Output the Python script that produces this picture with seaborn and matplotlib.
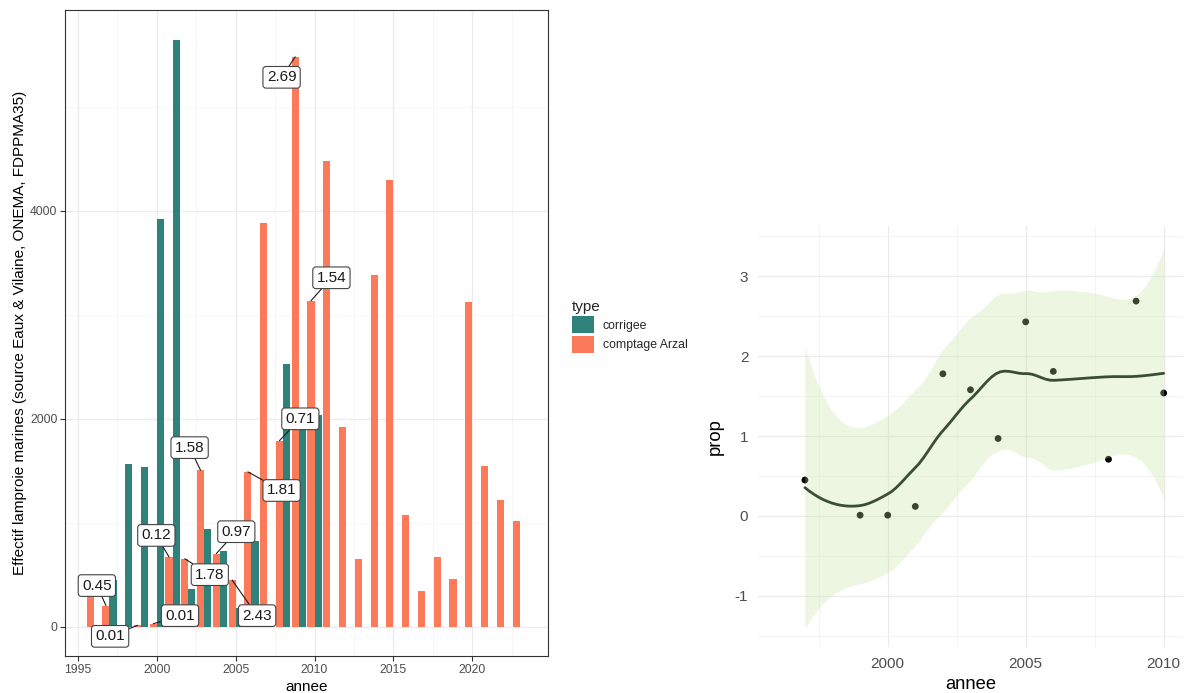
import math
import numpy as np
import pandas as pd
import matplotlib
matplotlib.use("Agg")
import matplotlib.pyplot as plt
from matplotlib.patches import Patch
import seaborn as sns

# ---- data -------------------------------------------------------------
annees = list(range(1996, 2024))
comptage_arzal = [305, 205, np.nan, 15, 30, 672, 655, 1505, 705, 450, 1490, 3885,
                  1790, 5480, 3135, 4480, 1920, 655, 3385, 4295, 1080, 345, 672,
                  457, 3120, 1542, 1222, 1018]
corrigee = [np.nan, 455, 1568, 1536, 3920, 5640, 368, 937, 726, 185, 822, np.nan,
            2528, 2037, 2036] + [np.nan] * 13

annees_prop = [1997, 1999, 2000, 2001, 2002, 2003, 2004, 2005, 2006, 2008, 2009, 2010]
prop = [0.45, 0.01, 0.01, 0.12, 1.78, 1.58, 0.97, 2.43, 1.81, 0.71, 2.69, 1.54]

# label box centres (data coordinates) for the ratio labels
label_pos = [(1996.2, 397), (1997.04, -91), (2001.47, 108), (1999.97, 879),
             (2003.36, 502), (2002.08, 1723), (2005.04, 915), (2006.36, 108),
             (2007.91, 1311), (2009.1, 2000), (2007.91, 5283), (2011.07, 3356)]

types = ["comptage Arzal", "corrigee"]
col_teal = "#2E8279"
col_orange = "#FB7A5A"

df = pd.concat([
    pd.DataFrame({"annee": annees, "effectif": comptage_arzal, "type": "comptage Arzal"}),
    pd.DataFrame({"annee": annees, "effectif": corrigee, "type": "corrigee"}),
]).dropna()


# ---- loess (span 0.75, degree 2, kd-tree vertices + cubic interpolation) ----
def t_ppf(p, dof):
    try:
        from scipy.stats import t as tdist
        return float(tdist.ppf(p, dof))
    except Exception:
        c = math.exp(math.lgamma((dof + 1) / 2) - math.lgamma(dof / 2)) / math.sqrt(dof * math.pi)
        g = np.linspace(0, 40, 400001)
        d = c * (1 + g ** 2 / dof) ** (-(dof + 1) / 2)
        cdf = 0.5 + np.concatenate([[0], np.cumsum((d[1:] + d[:-1]) / 2 * np.diff(g))])
        return float(np.interp(p, cdf, g))


def local_rows(x, x0, span=0.75, degree=2):
    """Operator rows giving the local fit value and slope at x0."""
    n = len(x)
    q = int(math.floor(n * span + 1e-5))
    dist = np.abs(x - x0)
    h = np.sort(dist)[q - 1]
    w = np.where(dist < h, (1 - (dist / h) ** 3) ** 3, 0.0)
    X = np.vander(x - x0, degree + 1, increasing=True)
    XtW = X.T * w
    B = np.linalg.solve(XtW @ X, XtW)
    return B[0], B[1]


def kd_vertices(x, fc):
    """Cell boundaries of a 1-d kd tree, cells split at the median data point."""
    xs_sorted = np.sort(x)
    mu = 0.005 * (x.max() - x.min())
    lo_b, hi_b = x.min() - mu, x.max() + mu
    verts = [lo_b, hi_b]

    def split(l, u, a, b):
        if u - l + 1 <= fc:
            return
        m = (l + u) // 2
        s = xs_sorted[m - 1]
        if s == a or s == b:
            return
        verts.append(s)
        split(l, m, a, s)
        split(m + 1, u, s, b)

    split(1, len(x), lo_b, hi_b)
    return np.array(sorted(set(verts)))


xp = np.array(annees_prop, dtype=float)
yp = np.array(prop, dtype=float)
n = len(xp)
verts = kd_vertices(xp, max(1, int(math.floor(n * 0.75 * 0.2))))
vrows = [local_rows(xp, v) for v in verts]
V0 = np.array([r[0] for r in vrows])
V1 = np.array([r[1] for r in vrows])


def interp_rows(xq):
    out = []
    for x0 in np.atleast_1d(xq):
        i = int(np.clip(np.searchsorted(verts, x0) - 1, 0, len(verts) - 2))
        a, b = verts[i], verts[i + 1]
        hlen = b - a
        t = (x0 - a) / hlen
        h00 = 2 * t ** 3 - 3 * t ** 2 + 1
        h10 = t ** 3 - 2 * t ** 2 + t
        h01 = -2 * t ** 3 + 3 * t ** 2
        h11 = t ** 3 - t ** 2
        out.append(h00 * V0[i] + h10 * hlen * V1[i] + h01 * V0[i + 1] + h11 * hlen * V1[i + 1])
    return np.array(out)


L = interp_rows(xp)
res = yp - L @ yp
M = (np.eye(n) - L).T @ (np.eye(n) - L)
delta1 = np.trace(M)
delta2 = np.trace(M @ M)
sigma = math.sqrt(np.sum(res ** 2) / delta1)
tq = t_ppf(0.975, delta1 ** 2 / delta2)

xs = np.linspace(xp.min(), xp.max(), 80)
Ls = interp_rows(xs)
fit = Ls @ yp
se = sigma * np.sqrt(np.sum(Ls ** 2, axis=1))
smooth = pd.DataFrame({"annee": xs, "prop": fit})

# ---- figure -----------------------------------------------------------
sns.set_theme(style="white")
plt.rcParams["font.family"] = ["Liberation Sans", "DejaVu Sans"]
plt.rcParams["axes.unicode_minus"] = False

fig = plt.figure(figsize=(11.86, 6.93), dpi=100)

# left panel: bar chart
ax = fig.add_axes([65 / 1186, 1 - 656 / 693, 483 / 1186, 646 / 693])
sns.barplot(data=df, x="annee", y="effectif", hue="type", hue_order=types,
            palette=[col_orange, col_teal], native_scale=True, width=0.9, gap=0,
            errorbar=None, legend=False, ax=ax, saturation=1, linewidth=0, zorder=2)
ax.set_xlim(1994.18, 2024.8)
ax.set_ylim(-280, 5930)
ax.set_xticks([1995, 2000, 2005, 2010, 2015, 2020])
ax.set_xticks(np.arange(1997.5, 2024, 5), minor=True)
ax.set_yticks([0, 2000, 4000])
ax.set_yticks([1000, 3000, 5000], minor=True)
ax.grid(True, which="major", color="#EBEBEB", lw=0.9, zorder=0)
ax.grid(True, which="minor", color="#F3F3F3", lw=0.5, zorder=0)
ax.set_axisbelow(True)
for s in ax.spines.values():
    s.set_color("#333333")
    s.set_linewidth(0.8)
ax.tick_params(axis="both", which="major", length=3.5, width=0.8, color="#333333",
               labelsize=8.8, labelcolor="#4D4D4D", pad=2, bottom=True, left=True)
ax.tick_params(axis="both", which="minor", length=0)
ax.set_xlabel("annee", fontsize=11, color="black", labelpad=3)
ax.set_ylabel("Effectif lamproie marines (source Eaux & Vilaine, ONEMA, FDPPMA35)",
              fontsize=11, color="black", labelpad=2.5)

arzal = dict(zip(annees, comptage_arzal))
for yr, p, (lx, ly) in zip(annees_prop, prop, label_pos):
    ax.annotate(f"{p:.2f}", xy=(yr - 0.225, arzal[yr]), xytext=(lx, ly),
                ha="center", va="center", fontsize=11, color="#1A1A1A", zorder=5,
                bbox=dict(boxstyle="round,pad=0.25,rounding_size=0.2", fc="white",
                          ec="#444444", lw=0.8),
                arrowprops=dict(arrowstyle="-", color="#1A1A1A", lw=0.8,
                                shrinkA=0, shrinkB=0))

handles = [Patch(facecolor=col_teal, edgecolor="none"),
           Patch(facecolor=col_orange, edgecolor="none")]
leg = fig.legend(handles, ["corrigee", "comptage Arzal"], title="type",
                 loc="upper left", bbox_to_anchor=(568 / 1186, 1 - 296 / 693),
                 frameon=False, fontsize=8.8, title_fontsize=11, handlelength=1.85,
                 handleheight=1.8, handletextpad=0.7, labelspacing=0.2,
                 alignment="left", borderaxespad=0, borderpad=0.3)

# right panel: ratio with loess smooth
ax2 = fig.add_axes([758 / 1186, 1 - 647 / 693, 425 / 1186, 421 / 693])
sns.scatterplot(x=annees_prop, y=prop, color="black", s=24, edgecolor="none",
                ax=ax2, zorder=2)
ax2.fill_between(xs, fit - tq * se, fit + tq * se, color="#C6E49E", alpha=0.3,
                 lw=0, zorder=3)
sns.lineplot(data=smooth, x="annee", y="prop", color="#3A4E35", lw=2.0, ax=ax2,
             zorder=4)
ax2.set_xlim(1995.3, 2010.7)
ax2.set_ylim(-1.64, 3.63)
ax2.set_xticks([2000, 2005, 2010])
ax2.set_xticks([1997.5, 2002.5, 2007.5], minor=True)
ax2.set_yticks([-1, 0, 1, 2, 3])
ax2.set_yticks([-1.5, -0.5, 0.5, 1.5, 2.5, 3.5], minor=True)
ax2.grid(True, which="major", color="#EBEBEB", lw=1.0, zorder=0)
ax2.grid(True, which="minor", color="#F3F3F3", lw=0.6, zorder=0)
ax2.set_axisbelow(True)
for s in ax2.spines.values():
    s.set_visible(False)
ax2.tick_params(axis="both", which="both", length=0, labelsize=11,
                labelcolor="#4D4D4D", pad=7)
ax2.set_xlabel("annee", fontsize=13.2, color="black", labelpad=4)
ax2.set_ylabel("prop", fontsize=13.2, color="black", labelpad=8)

fig.savefig("out.png", dpi=100, facecolor="white")
